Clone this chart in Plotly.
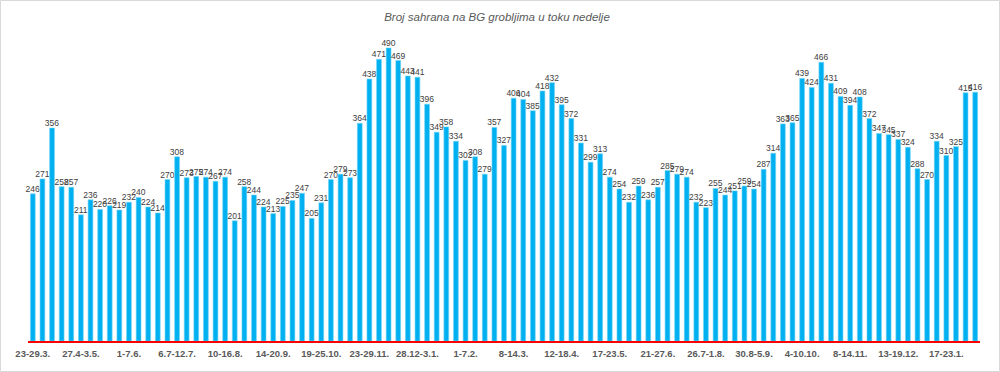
import datetime as dt
import plotly.graph_objects as go

values = [246, 271, 356, 258, 257, 211, 236, 220, 226, 219,
          232, 240, 224, 214, 270, 308, 273, 275, 274, 267,
          274, 201, 258, 244, 224, 213, 225, 235, 247, 205,
          231, 270, 279, 273, 364, 438, 471, 490, 469, 443,
          441, 396, 349, 358, 334, 302, 308, 279, 357, 327,
          406, 404, 385, 418, 432, 395, 372, 331, 299, 313,
          274, 254, 232, 259, 236, 257, 285, 279, 274, 232,
          223, 255, 244, 251, 259, 254, 287, 314, 363, 365,
          439, 424, 466, 431, 409, 394, 408, 372, 347, 345,
          337, 324, 288, 270, 334, 310, 325, 415, 416]

tick_labels = ["23-29.3.", "27.4-3.5.", "1-7.6.", "6.7-12.7.", "10-16.8.",
               "14-20.9.", "19-25.10.", "23-29.11.", "28.12-3.1.", "1-7.2.",
               "8-14.3.", "12-18.4.", "17-23.5.", "21-27.6.", "26.7-1.8.",
               "30.8-5.9.", "4-10.10.", "8-14.11.", "13-19.12.", "17-23.1."]

title_text = "Broj sahrana na BG grobljima u toku nedelje"

# week categories (Monday-Sunday) starting 23.3.2020
start = dt.date(2020, 3, 23)
weeks = []
for i in range(len(values)):
    a = start + dt.timedelta(days=7 * i)
    b = a + dt.timedelta(days=6)
    if a.month == b.month:
        lab = f"{a.day}-{b.day}.{b.month}."
    else:
        lab = f"{a.day}.{a.month}-{b.day}.{b.month}."
    weeks.append(f"{lab} {a.year}")

tick_vals = weeks[::5][:len(tick_labels)]

fig = go.Figure(go.Bar(
    x=weeks, y=values,
    marker=dict(color="#00b0f0", line=dict(color="#6dd3f7", width=0.6)),
    text=[str(v) for v in values],
    textposition="outside",
    constraintext="none",
    cliponaxis=False,
    textfont=dict(family="Liberation Sans", size=8.5, color="#404040"),
    hoverinfo="x+y",
))

L, R, T, B = 28, 20, 30, 31
W, H = 1000, 372
pw, ph = W - L - R, H - T - B

fig.update_layout(
    width=W, height=H,
    margin=dict(l=L, r=R, t=T, b=B, autoexpand=False),
    paper_bgcolor="white", plot_bgcolor="white",
    bargap=0.5,
    showlegend=False,
    title=dict(text=title_text, x=0.497, xanchor="center", y=1 - 17 / H, yanchor="middle",
               font=dict(family="Liberation Sans", size=11.5, color="#595959", style="italic")),
    xaxis=dict(type="category", tickmode="array", tickvals=tick_vals, ticktext=tick_labels,
               tickangle=0, showline=True, linecolor="#ff0000", linewidth=2,
               ticks="", showgrid=False, automargin=False, ticklabelstandoff=3,
               tickfont=dict(family="Liberation Sans", size=9.5, color="#595959", weight="bold")),
    yaxis=dict(range=[0, 520], visible=False, showgrid=False, automargin=False),
    shapes=[dict(type="rect", xref="paper", yref="paper",
                 x0=-(L - 0.5) / pw, x1=1 + (R - 0.5) / pw,
                 y0=-(B - 0.5) / ph, y1=1 + (T - 0.5) / ph,
                 line=dict(color="#d9d9d9", width=1), layer="below")],
)

fig.write_html("out.html", config={"displayModeBar": False},
               post_script="document.body.style.margin='0';document.body.style.overflow='hidden';")
